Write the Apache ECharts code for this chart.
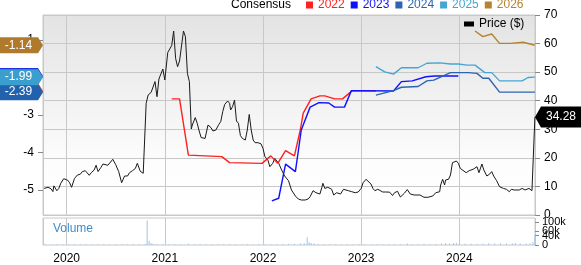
<!DOCTYPE html>
<html><head><meta charset="utf-8">
<script src="https://cdn.jsdelivr.net/npm/echarts@6/dist/echarts.min.js"></script>
<style>html,body{margin:0;padding:0;background:#fff}#c{width:581px;height:265px}</style>
</head><body><div id="c"></div>
<script>
// x values are decimal years
const xMin = 2019.759, xMax = 2024.771;
const yearTicks = [2020, 2021, 2022, 2023, 2024];

const priceT = [2019.77,2019.81,2019.84,2019.86,2019.87,2019.90,2019.92,2019.94,2019.97,2020.01,2020.03,2020.05,2020.08,2020.11,2020.14,2020.16,2020.19,2020.20,2020.23,2020.25,2020.28,2020.30,2020.32,2020.35,2020.37,2020.39,2020.42,2020.44,2020.47,2020.50,2020.53,2020.56,2020.59,2020.62,2020.64,2020.67,2020.70,2020.72,2020.73,2020.75,2020.78,2020.80,2020.81,2020.83,2020.86,2020.88,2020.90,2020.92,2020.94,2020.96,2020.98,2021.00,2021.03,2021.05,2021.07,2021.09,2021.11,2021.13,2021.15,2021.17,2021.19,2021.21,2021.23,2021.25,2021.27,2021.28,2021.31,2021.33,2021.35,2021.37,2021.39,2021.41,2021.44,2021.47,2021.49,2021.52,2021.55,2021.57,2021.59,2021.61,2021.63,2021.64,2021.66,2021.67,2021.69,2021.71,2021.73,2021.75,2021.77,2021.79,2021.82,2021.84,2021.86,2021.88,2021.90,2021.92,2021.95,2021.98,2022.00,2022.02,2022.05,2022.07,2022.10,2022.12,2022.16,2022.19,2022.22,2022.26,2022.29,2022.33,2022.36,2022.39,2022.43,2022.46,2022.48,2022.50,2022.51,2022.54,2022.56,2022.58,2022.60,2022.61,2022.63,2022.66,2022.68,2022.70,2022.72,2022.75,2022.77,2022.79,2022.82,2022.84,2022.87,2022.90,2022.94,2022.97,2023.00,2023.02,2023.05,2023.07,2023.10,2023.12,2023.14,2023.17,2023.19,2023.22,2023.25,2023.27,2023.29,2023.32,2023.34,2023.37,2023.40,2023.44,2023.47,2023.50,2023.54,2023.60,2023.64,2023.68,2023.73,2023.76,2023.80,2023.81,2023.83,2023.85,2023.86,2023.89,2023.91,2023.93,2023.95,2023.97,2023.99,2024.01,2024.03,2024.07,2024.10,2024.14,2024.16,2024.18,2024.20,2024.23,2024.25,2024.28,2024.31,2024.33,2024.35,2024.38,2024.41,2024.45,2024.48,2024.51,2024.53,2024.56,2024.58,2024.61,2024.64,2024.67,2024.69,2024.71,2024.74,2024.76,2024.77];
const priceV = [9.3,9.7,9.2,8.2,10.2,8.5,9.3,11.1,12.7,12.2,11.3,9.7,12.8,14.0,14.3,15.2,15.5,14.8,13.9,14.8,15.75,17.4,15.2,16.7,17.85,18.5,17.4,16.9,19.5,17.6,15.2,11.3,13.65,13.65,14.8,15.5,16.3,18.1,17.5,15.3,14.6,14.2,39.1,42.0,42.9,42.2,46.7,41.4,47.6,48.1,51.1,47.25,56.9,57.4,59.3,64.4,54.8,51.9,53.9,54.1,64.4,62.4,49.6,46.7,30.1,31.5,34.1,32.1,29.4,27.1,26.6,26.8,31.5,30.6,29.4,29.75,31.7,32.7,36.2,38.7,39.4,39.9,39.1,36.75,37.9,40.25,32.9,32.1,27.8,26.8,26.25,29.75,35.2,29.75,26.25,25.3,25.3,24.9,23.3,20.4,19.25,16.9,18.1,19.8,18.1,15.75,13.65,12.0,8.75,6.65,5.6,5.25,5.25,5.6,6.4,5.8,8.5,7.8,8.2,7.35,9.7,11.1,9.3,9.7,9.0,9.0,7.0,7.8,8.05,7.35,9.0,8.4,8.5,8.2,7.8,8.05,9.3,11.3,12.5,12.0,10.85,9.3,8.5,9.0,8.3,8.05,8.05,7.6,8.0,6.8,7.8,8.3,6.3,7.6,8.9,7.35,7.0,7.0,6.2,6.2,6.65,7.8,8.15,10.5,12.5,10.5,12.25,12.5,14.0,18.3,19.0,18.9,18.1,16.3,16.0,14.8,15.5,16.0,15.5,16.9,14.8,17.85,15.75,13.65,14.35,15.2,13.65,12.0,9.9,9.3,9.0,8.15,9.0,8.75,9.2,8.75,9.3,8.75,8.15,9.3,8.5,7.8,34.28];

const c2022T = [2021.07,2021.15,2021.24,2021.58,2021.66,2021.99,2022.08,2022.15,2022.23,2022.32,2022.38,2022.41,2022.49,2022.58,2022.63,2022.73,2022.81,2022.91,2023.15];
const c2022V = [-2.57,-2.57,-4.07,-4.11,-4.27,-4.29,-4.09,-4.29,-3.95,-4.09,-3.4,-2.95,-2.57,-2.49,-2.49,-2.57,-2.57,-2.35,-2.36];
const c2023T = [2022.09,2022.16,2022.23,2022.33,2022.39,2022.48,2022.57,2022.67,2022.73,2022.83,2022.90,2023.33,2023.41,2023.52,2023.66,2023.75,2023.99];
const c2023V = [-5.29,-5.22,-4.31,-4.51,-3.4,-2.79,-2.67,-2.68,-2.79,-2.79,-2.35,-2.36,-2.11,-2.09,-1.98,-1.96,-1.96];
const c2024T = [2023.15,2023.33,2023.41,2023.58,2023.67,2023.74,2023.91,2024.09,2024.18,2024.24,2024.30,2024.41,2024.62,2024.77];
const c2024V = [-2.47,-2.35,-2.26,-2.24,-2.09,-2.07,-1.87,-1.87,-1.89,-2.02,-2.02,-2.39,-2.39,-2.39];
const c2025T = [2023.15,2023.24,2023.33,2023.41,2023.58,2023.67,2023.80,2023.91,2023.99,2024.08,2024.16,2024.26,2024.33,2024.41,2024.64,2024.70,2024.77];
const c2025V = [-1.71,-1.85,-1.91,-1.74,-1.74,-1.62,-1.61,-1.64,-1.64,-1.67,-1.67,-1.87,-1.87,-2.09,-2.09,-2.00,-1.99];
const c2026T = [2024.16,2024.24,2024.33,2024.41,2024.52,2024.65,2024.77];
const c2026V = [-0.76,-0.91,-0.84,-1.09,-1.09,-1.06,-1.14];

const volT = [2019.78,2019.84,2019.90,2019.96,2020.02,2020.08,2020.14,2020.20,2020.26,2020.32,2020.38,2020.44,2020.50,2020.56,2020.62,2020.68,2020.74,2020.80,2020.82,2020.84,2020.86,2020.88,2020.92,2020.98,2021.04,2021.10,2021.16,2021.24,2021.30,2021.36,2021.42,2021.48,2021.54,2021.60,2021.66,2021.72,2021.78,2021.84,2021.90,2021.96,2022.02,2022.08,2022.14,2022.20,2022.26,2022.32,2022.38,2022.42,2022.45,2022.47,2022.49,2022.52,2022.56,2022.62,2022.68,2022.74,2022.80,2022.86,2022.92,2022.98,2023.04,2023.10,2023.16,2023.22,2023.28,2023.34,2023.40,2023.47,2023.52,2023.58,2023.64,2023.70,2023.76,2023.82,2023.86,2023.90,2023.94,2023.97,2024.00,2024.06,2024.12,2024.18,2024.24,2024.30,2024.36,2024.42,2024.48,2024.54,2024.57,2024.62,2024.68,2024.72,2024.75,2024.77];
const volV = [3000,2500,3000,2000,2500,3000,2500,3000,2000,2500,3000,2500,3000,3500,2500,3000,3000,4000,106000,18000,8000,5000,4000,3500,3000,3000,3500,5000,3500,3000,2500,3000,3000,3500,3000,3000,2500,3000,2500,3000,2500,3000,3500,3000,4000,5000,6000,8000,34000,12000,9000,6000,4000,3500,3000,3000,2500,3000,2500,3000,3000,2500,3000,2500,3000,3000,3500,6000,3500,3500,5000,3500,4000,6000,8000,7000,9000,10000,7000,5000,5000,4500,5000,8000,6000,6000,6500,7000,9000,6000,5500,6000,12000,40000];
const volTicks = [0,20000,40000,60000,80000,100000];

const consSeries = [
  {name:'2022', t:c2022T, v:c2022V, color:'#ff2020'},
  {name:'2023', t:c2023T, v:c2023V, color:'#1010ff'},
  {name:'2024', t:c2024T, v:c2024V, color:'#2b64b0'},
  {name:'2025', t:c2025T, v:c2025V, color:'#45a6d3'},
  {name:'2026', t:c2026T, v:c2026V, color:'#b5822f'}
];
const badgeColors = {'2022':'#e83030','2023':'#2030e0','2024':'#2262ad','2025':'#3a9fcf','2026':'#b07a2c'};
const zip = (a,b) => a.map((x,i)=>[x,b[i]]);
const FONT = '"Liberation Sans", Arial, sans-serif';

const series = [{
  name:'Price ($)', type:'line', xAxisIndex:0, yAxisIndex:1, data: zip(priceT, priceV),
  showSymbol:false, color:'#000', lineStyle:{color:'#1a1a1a', width:1}, z:2,
  markPoint:{ silent:true, z:10,
    symbol:'path://M6,0L46,0L46,22L6,22L0,11Z', symbolSize:[46,21], symbolOffset:[23,0],
    itemStyle:{color:'#000'},
    label:{show:true, position:'inside', color:'#fff', fontSize:12, fontFamily:FONT, offset:[3,0], formatter:p=>p.value.toFixed(2)},
    data:[{coord:[xMax, priceV[priceV.length-1]], value: priceV[priceV.length-1]}] }
}];
consSeries.forEach((s,i)=>{
  const last = s.v[s.v.length-1];
  series.push({
    name:s.name, type:'line', xAxisIndex:0, yAxisIndex:0, data: zip(s.t, s.v),
    showSymbol:false, color:s.color, lineStyle:{color:s.color, width:1.4}, z:3+i,
    markPoint:{ silent:true, z:10+i,
      symbol:'path://M0,0L38,0L43,8L38,16L0,16Z', symbolSize:[43,16], symbolOffset:[-21.5,0],
      itemStyle:{color:badgeColors[s.name]},
      label:{show:true, position:'inside', color:'#fff', fontSize:12, fontFamily:FONT, offset:[-3,0], formatter:p=>p.value.toFixed(2)},
      data:[{coord:[xMin, last], value:last}] }
  });
});
series.push({
  name:'Volume', type:'bar', xAxisIndex:1, yAxisIndex:2, data: zip(volT, volV),
  barWidth:1, itemStyle:{color:'#9cc3e6'}, silent:true
});

const chart = echarts.init(document.getElementById('c'), null, {renderer:'canvas'});
chart.setOption({
  animation:false,
  textStyle:{fontFamily:FONT},
  title:[
    {text:'Consensus', left:231, top:-1, padding:0, textStyle:{fontSize:12, fontWeight:'normal', color:'#000', fontFamily:FONT}},
    {text:'Volume', left:53, top:223, padding:0, textStyle:{fontSize:12, fontWeight:'normal', color:'#3b8ed0', fontFamily:FONT}}
  ],
  legend:[
    {data: consSeries.map(s=>({name:s.name, textStyle:{color:s.color}})), left:306, top:-1, padding:0,
     itemWidth:7, itemHeight:7, itemGap:6, icon:'rect', selectedMode:false,
     textStyle:{fontSize:12, fontFamily:FONT}},
    {data:[{name:'Price ($)'}], left:464, top:18, padding:0, itemWidth:10, itemHeight:5, icon:'rect', selectedMode:false,
     textStyle:{fontSize:12, color:'#000', fontFamily:FONT}}
  ],
  grid:[
    {left:43, top:15, width:492, height:200, show:true, borderColor:'#c8c8c8', borderWidth:1,
     backgroundColor:{type:'linear', x:0, y:0, x2:0, y2:1, colorStops:[{offset:0,color:'#e3e3e3'},{offset:0.75,color:'#fdfdfd'},{offset:1,color:'#ffffff'}]}},
    {left:43, top:218, width:492, height:36, show:true, borderColor:'#c8c8c8', borderWidth:1, backgroundColor:'#fff'}
  ],
  xAxis:[
    {type:'value', gridIndex:0, min:xMin, max:xMax, axisLabel:{show:false}, axisTick:{show:false}, axisLine:{show:false},
     splitLine:{show:true, lineStyle:{color:'#c8c8c8', width:1}}},
    {type:'value', gridIndex:1, min:xMin, max:xMax, axisTick:{show:false}, axisLine:{show:false},
     splitLine:{show:true, lineStyle:{color:'#c8c8c8', width:1}},
     axisLabel:{show:true, customValues:yearTicks, color:'#000', fontSize:12, margin:8, fontFamily:FONT, formatter:v=>String(Math.round(v))}}
  ],
  yAxis:[
    {type:'value', gridIndex:0, position:'left', min:-5.6667, max:-0.3333, splitLine:{show:false},
     axisLine:{show:false}, axisTick:{show:true, length:5, lineStyle:{color:'#888'}},
     axisLabel:{color:'#000', fontSize:12, margin:9, fontFamily:FONT, showMinLabel:false, showMaxLabel:false,
       formatter:v=> (Math.abs(v-Math.round(v))<1e-6 ? String(Math.round(v)) : '')}},
    {type:'value', gridIndex:0, position:'right', min:0, max:70, interval:10,
     splitLine:{show:true, lineStyle:{color:'#c8c8c8'}}, axisLine:{show:false},
     axisTick:{show:true, length:5, lineStyle:{color:'#888'}},
     axisLabel:{color:'#000', fontSize:12, margin:9, fontFamily:FONT}},
    {type:'value', gridIndex:1, position:'right', min:0, max:116667, splitLine:{show:false}, axisLine:{show:false},
     axisTick:{show:true, length:4, customValues:volTicks, lineStyle:{color:'#888'}},
     axisLabel:{show:true, customValues:volTicks, interval:0, hideOverlap:false, showMinLabel:true, showMaxLabel:true,
       color:'#000', fontSize:11, margin:7, fontFamily:FONT,
       formatter:v=> v===0 ? '0' : (v/1000)+'k'}}
  ],
  series: series
});
</script>
</body></html>
